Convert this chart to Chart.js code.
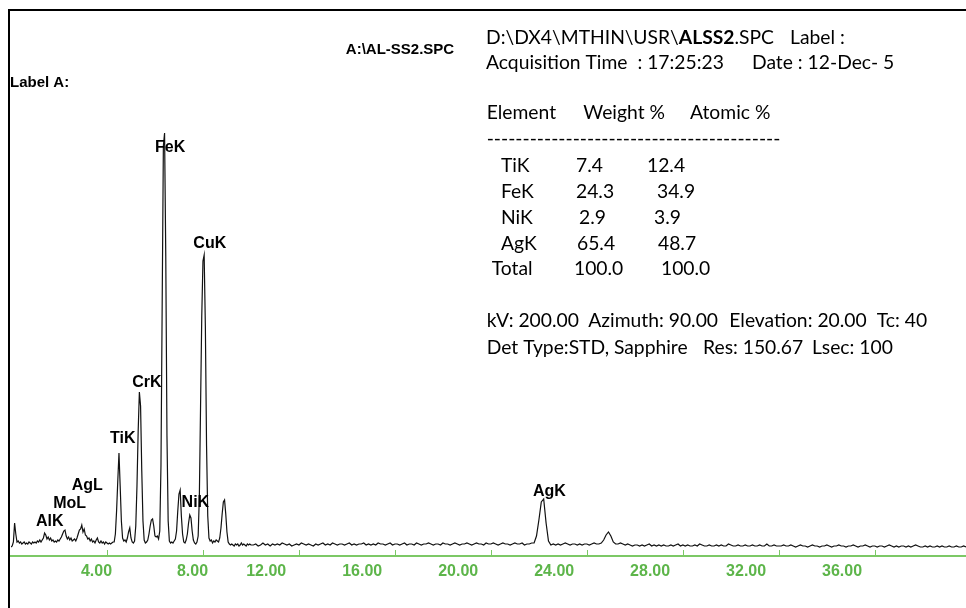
<!DOCTYPE html>
<html>
<head>
<meta charset="utf-8">
<script src="https://cdn.jsdelivr.net/npm/chart.js@4.4.0/dist/chart.umd.min.js"></script>
<style>
html, body { margin: 0; padding: 0; background: #fff; }
#wrap { width: 966px; height: 608px; }
</style>
</head>
<body>
<div id="wrap"><canvas id="spectrum" width="966" height="608"></canvas></div>
<script>
// spectrum counts, 0.00 - 10.00 keV every 0.05 keV
var countsLow = [
  45,50,70,165,110,70,75,65,70,60,
  65,70,60,65,60,70,65,60,70,65,
  70,65,75,70,80,70,80,90,115,105,
  85,95,80,90,75,80,70,75,70,80,
  75,85,95,110,125,130,100,85,95,80,
  90,75,80,85,75,90,110,130,135,155,
  120,135,105,100,85,90,75,85,70,75,
  65,80,90,70,65,75,65,70,60,70,
  65,60,65,60,65,70,70,110,225,375,
  515,350,175,90,75,80,70,90,120,140,
  90,70,65,75,150,350,625,820,750,425,
  175,80,65,70,80,110,150,180,185,150,
  100,95,100,85,125,450,1250,2050,2115,1500,
  600,175,75,65,70,65,75,85,125,225,
  310,330,200,110,70,65,80,110,165,205,
  190,125,80,65,60,70,100,300,750,1200,
  1475,1505,1150,550,200,90,75,80,65,75,
  70,80,75,70,90,140,210,270,280,210,
  120,70,60,55,60,55,50,60,55,60,
  50,55,65,55,60,55,50,60,55,60,
  55
];
// spectrum counts, 10.1 - 39.8 keV every 0.1 keV
var countsHigh = [
  55,60,50,55,65,55,60,50,60,55, 60,55,65,60,55,60,50,55,60,55, 65,60,55,60,55,50,60,55,60,65,
  55,60,55,65,60,55,60,60,55,60, 65,55,60,55,60,60,65,55,60,55, 60,55,65,60,60,55,60,65,55,60,
  60,55,60,65,55,60,60,55,65,60, 55,60,60,65,60,55,60,60,55,65, 60,60,55,60,65,60,55,60,60,65,
  60,55,60,65,60,60,55,65,60,60, 65,60,55,60,65,60,60,55,60,65, 60,60,65,55,60,60,65,
  65,100,180,270,285,165,75,55,
  60,55,60,55,60,65,60,55,60,60, 55,60,55,60,60,55,60,65,60,60, 65,
  80,105,120,100,70,60,
  60,65,60,55,60,55,50,55,55,50, 55,50,55,60,50,55,50,55,50,55, 50,50,55,50,55,60,50,55,
  50,55,50,50,55,50,60,55,50,50, 55,50,50,55,50,55,50,50,60,55, 50,50,55,50,50,55,50,50,55,50, 50,55,50,50,60,50,50,55,50,50,
  50,55,50,50,55,50,45,50,55,50, 50,45,50,55,50,50,45,50,50,55, 50,45,50,50,55,50,50,45,50,50, 55,50,45,50,50,55,50,45,50,50,
  45,50,50,45,50,55,50,45,50,45, 50,50,45,50,45,50,55,50,45,45, 50,45,50,45,45,50,45,50,45,45, 50,45,45,50,45,45,50,45
];
var lowStep = 0.05, highStart = 10.1, highStep = 0.1;

// peak labels: text, where the label sits (keV, counts)
var peakNames = ['AlK', 'MoL', 'AgL', 'TiK', 'CrK', 'FeK', 'NiK', 'CuK', 'AgK'];
var peakLabelKeV = [1.04, 1.76, 2.53, 4.13, 5.05, 6.0, 7.11, 7.6, 21.75];
var peakLabelCounts = [150, 240, 330, 565, 845, 2020, 245, 1540, 300];

// quantification table
var elements = ['TiK', 'FeK', 'NiK', 'AgK'];
var weightPct = [7.4, 24.3, 2.9, 65.4];
var atomicPct = [12.4, 34.9, 3.9, 48.7];
var weightTotal = 100.0, atomicTotal = 100.0;

var points = [];
countsLow.forEach(function (c, i) { points.push({ x: +(i * lowStep).toFixed(2), y: c }); });
countsHigh.forEach(function (c, i) { points.push({ x: +(highStart + i * highStep).toFixed(2), y: c }); });

var axisGreen = '#7cc866';
var labelGreen = '#5db54a';
var monoFont = '"Liberation Sans", Arial, sans-serif';
var infoFamily = 'Lato, Carlito, "Open Sans", sans-serif';

// text rows of the table (left edges / baselines in px)
var rowBase = [171.7, 198.3, 224, 250, 275];
var nameX = [501, 501, 501, 501, 491.7];
var weightX = [576, 576, 579, 577, 574];
var atomicX = [647, 657, 654, 658, 661];

var decor = {
  id: 'decor',
  afterDraw: function (chart) {
    var ctx = chart.ctx, area = chart.chartArea, xs = chart.scales.x, ys = chart.scales.y;
    ctx.save();

    // black frame, top and left
    ctx.fillStyle = '#000';
    ctx.fillRect(area.left - 3, area.top - 1, chart.width - area.left + 3, 2);
    ctx.fillRect(area.left - 3, area.top - 1, 2, chart.height - area.top + 1);

    // green energy axis, ticks pointing up
    ctx.fillStyle = axisGreen;
    ctx.fillRect(area.left - 1, area.bottom - 1, area.right - area.left + 1, 2);
    xs.ticks.forEach(function (t) {
      var px = Math.round(xs.getPixelForValue(t.value));
      ctx.fillRect(px, area.bottom - 6, 1, 6);
    });

    // peak labels
    ctx.fillStyle = '#000';
    ctx.textAlign = 'left';
    ctx.textBaseline = 'alphabetic';
    ctx.font = 'bold 16px ' + monoFont;
    peakNames.forEach(function (n, i) {
      ctx.fillText(n, xs.getPixelForValue(peakLabelKeV[i]), ys.getPixelForValue(peakLabelCounts[i]));
    });
    ctx.font = 'bold 15px ' + monoFont;
    ctx.fillText('Label A:', 10, 87);
    ctx.textAlign = 'center';
    ctx.fillText('A:\\AL-SS2.SPC', 400, 54);
    ctx.textAlign = 'left';

    // info block (Calibri-like)
    ctx.font = '20px ' + infoFamily;
    var kv = ['kV: 200.00', 'Azimuth: 90.00', 'Elevation: 20.00', 'Tc: 40'];
    var kvW = kv.reduce(function (a, p) { return a + ctx.measureText(p).width; }, 0);
    var size = 20 * 410 / kvW;
    var normal = size.toFixed(2) + 'px ' + infoFamily;
    var bold = 'bold ' + normal;

    function runs(parts, x, y) {
      parts.forEach(function (p) {
        ctx.font = p[1] ? bold : normal;
        ctx.fillText(p[0], x, y);
        x += ctx.measureText(p[0]).width;
      });
    }
    runs([['D:\\DX4\\MTHIN\\USR\\', false], ['ALSS2', true], ['.SPC', false]], 486, 44);
    ctx.font = normal;
    ctx.fillText('Label :', 790, 44);
    ctx.fillText('Acquisition Time  : 17:25:23', 486, 69);
    ctx.fillText('Date : 12-Dec- 5', 752, 69);

    ctx.fillText('Element', 486.7, 119);
    ctx.fillText('Weight %', 583.3, 119);
    ctx.fillText('Atomic %', 690, 119);
    var dash = '-';
    while (ctx.measureText(dash + '-').width < 298) dash += '-';
    ctx.fillText(dash, 486.7, 145);

    elements.forEach(function (el, i) {
      ctx.fillText(el, nameX[i], rowBase[i]);
      ctx.fillText(weightPct[i].toFixed(1), weightX[i], rowBase[i]);
      ctx.fillText(atomicPct[i].toFixed(1), atomicX[i], rowBase[i]);
    });
    ctx.fillText('Total', nameX[4], rowBase[4]);
    ctx.fillText(weightTotal.toFixed(1), weightX[4], rowBase[4]);
    ctx.fillText(atomicTotal.toFixed(1), atomicX[4], rowBase[4]);

    ctx.fillText(kv[0], 486.7, 326.7);
    ctx.fillText(kv[1], 588.3, 326.7);
    ctx.fillText(kv[2], 729.3, 326.7);
    ctx.fillText(kv[3], 876.7, 326.7);
    ctx.fillText('Det Type:STD, Sapphire', 486.7, 354);
    ctx.fillText('Res: 150.67', 703, 354);
    ctx.fillText('Lsec: 100', 812, 354);

    ctx.restore();
  }
};

var ctx = document.getElementById('spectrum').getContext('2d');
var spectrumChart = new Chart(ctx, {
  type: 'line',
  data: {
    datasets: [{
      data: points,
      borderColor: '#111',
      borderWidth: 1.2,
      pointRadius: 0,
      tension: 0,
      fill: false
    }]
  },
  options: {
    responsive: false,
    animation: false,
    events: [],
    layout: { padding: { left: 11, top: 10, right: 0, bottom: 0 } },
    plugins: {
      legend: { display: false },
      title: { display: false },
      tooltip: { enabled: false }
    },
    scales: {
      x: {
        type: 'linear',
        min: 0,
        max: 39.8,
        grid: { display: false, drawTicks: false },
        border: { display: false },
        ticks: {
          stepSize: 4,
          includeBounds: false,
          autoSkip: false,
          maxRotation: 0,
          minRotation: 0,
          padding: 6,
          labelOffset: -10.5,
          color: labelGreen,
          font: { family: monoFont, size: 16, weight: 'bold' },
          // the old software prints two-digit values further left of their tick
          callback: function (v) { return v >= 10 ? v.toFixed(2) + '          ' : v.toFixed(2); }
        },
        afterBuildTicks: function (s) { s.ticks = s.ticks.filter(function (t) { return t.value > 0; }); },
        afterFit: function (s) { s.height = 52; }
      },
      y: { display: false, min: 0, max: 2730 }
    }
  },
  plugins: [decor]
});
</script>
</body>
</html>
